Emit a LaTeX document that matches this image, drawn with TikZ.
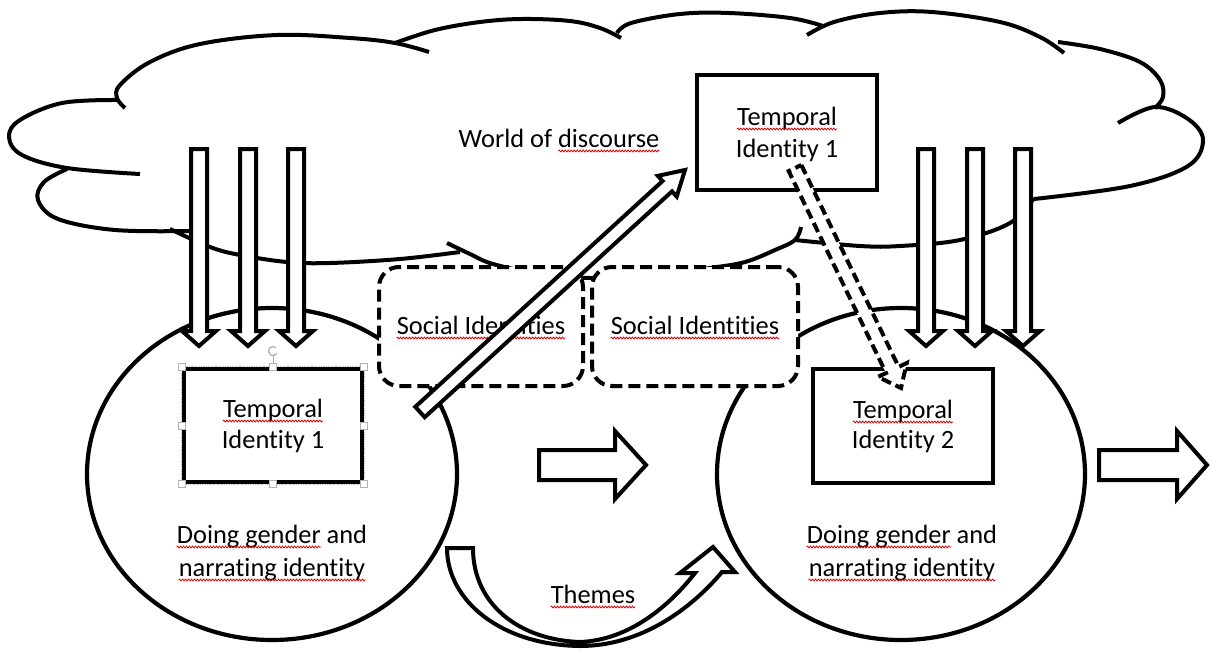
\documentclass[tikz,border=0pt]{standalone}
\usepackage{fontspec}
\setmainfont{Carlito}[RawFeature={-liga;-clig}]
\usetikzlibrary{calc,decorations.pathmorphing}
\tikzset{
 cloudln/.style={line width=4pt},
 ringln/.style={line width=4.2pt},
 tbox/.style={draw, line width=4.5pt, fill=white, inner sep=0pt},
 sbox/.style={draw, line width=4pt, dash pattern=on 12pt off 6pt, rounded corners=20pt, fill=white, inner sep=0pt},
 barr/.style={draw, line width=4pt, fill=white, line join=miter},
 dbarr/.style={barr, dash pattern=on 10pt off 5pt},
 txt/.style={font=\fontsize{26.4}{32}\selectfont, inner sep=0pt, anchor=base},
 squig/.style={draw=red!85!black, line width=0.8pt, decorate, decoration={snake, segment length=3pt, amplitude=0.9pt}},
 handle/.style={draw=gray!60, fill=white, line width=0.8pt, minimum size=7pt, inner sep=0pt},
}
% #1 style, #2 tail coord, #3 tip coord, #4 shaft half width, #5 head half width, #6 head length
\newcommand\blockarrow[6][]{%
 \coordinate (ba-h) at ($(#3)!#6!(#2)$);
 \draw[#1] ($(#2)!#4!90:(#3)$) -- ($(ba-h)!#4!-90:(#2)$) -- ($(ba-h)!#5!-90:(#2)$) -- (#3)
   -- ($(ba-h)!#5!90:(#2)$) -- ($(ba-h)!#4!90:(#2)$) -- ($(#2)!#4!-90:(#3)$) -- cycle;}
\newcommand\squigunder[3][0]{%
 \draw[squig] ($(#2.base west)!#1!(#2.base east)+(0,4)$) -- ($(#2.base west)!#3!(#2.base east)+(0,4)$);}
\begin{document}
\begin{tikzpicture}[x=1pt,y=-1pt]
\useasboundingbox (0,0) rectangle (1212,648);
% ---------------- cloud ----------------
\draw[cloudln] plot[smooth, tension=0.6] coordinates {(117,100) (62,103) (20,120) (9,137) (22,155) (67,168) (140,174)};
\draw[cloudln] plot[smooth, tension=0.6] coordinates {(67,169) (44,182) (38,200) (58,219) (115,230) (190,231)};
\draw[cloudln] plot[smooth, tension=0.6] coordinates {(170,229) (210,247) (240,255) (287,262) (330,263) (400,259) (460,252)};
\draw[cloudln] plot[smooth, tension=0.6] coordinates {(447,243) (470,254) (493,264) (540,274) (590,278) (650,276) (710,268) (745,262) (775,250) (795,240) (801,227)};
\draw[cloudln] plot[smooth, tension=0.6] coordinates {(1034,198) (1010,223) (960,240) (900,246) (860,246) (795,240)};
\draw[cloudln] plot[smooth, tension=0.6] coordinates {(1118,123) (1155,107) (1188,119) (1203,140) (1188,166) (1130,186) (1034,199)};
\draw[cloudln] plot[smooth, tension=0.6] coordinates {(1058,42) (1100,49) (1140,62) (1160,80) (1163,97) (1155,108)};
\draw[cloudln] plot[smooth, tension=0.6] coordinates {(807,35) (834,22) (880,13) (932,12) (1000,22) (1040,37) (1064,53)};
\draw[cloudln] plot[smooth, tension=0.6] coordinates {(617,33) (631,23) (680,14) (729,13) (790,18) (823,26)};
\draw[cloudln] plot[smooth, tension=0.6] coordinates {(395,43) (435,30) (480,22) (522,19) (570,21) (600,28) (621,38)};
\draw[cloudln] plot[smooth, tension=0.6] coordinates {(125,108) (117,98) (120,85) (150,62) (200,44) (277,35) (350,38) (395,43) (429,52)};
\node[txt] (world) at (559,147) {World of discourse};
\squigunder[0.4967]{world}{1}
% ---------------- rings ----------------
\draw[ringln] (272,474) ellipse [x radius=185pt, y radius=166pt];
\draw[ringln] (901,474) ellipse [x radius=184pt, y radius=166pt];
% ---------------- social identities ----------------
\node[sbox, minimum width=204pt, minimum height=119pt] (s1) at (481,326.5) {};
\node[sbox, minimum width=206pt, minimum height=119pt] (s2) at (695,326.5) {};
\node[txt] (s1t) at (481,334) {Social Identities};
\node[txt] (s2t) at (695,334) {Social Identities};
\squigunder{s1t}{1}
\squigunder{s2t}{1}
% ---------------- temporal boxes ----------------
\node[tbox, minimum width=180pt, minimum height=115pt] (top) at (787,132.5) {};
\node[txt] (topa) at (787,125) {Temporal};
\node[txt] (topb) at (787,157) {Identity 1};
\squigunder{topa}{1}
\node[tbox, minimum width=178pt, minimum height=113pt] (t1) at (273,425.5) {};
\draw[gray!55, line width=1pt, dash pattern=on 1.2pt off 1.2pt] (t1.south west) rectangle (t1.north east);
\node[txt] (t1a) at (273,417) {Temporal};
\node[txt] (t1b) at (273,448) {Identity 1};
\squigunder{t1a}{1}
\node[tbox, minimum width=180pt, minimum height=114pt] (t2) at (903,426) {};
\node[txt] (t2a) at (903,418) {Temporal};
\node[txt] (t2b) at (903,448) {Identity 2};
\squigunder{t2a}{1}
% ---------------- ring captions ----------------
\node[txt] (d1a) at (272,543) {Doing gender and};
\node[txt] (d1b) at (272,576) {narrating identity};
\squigunder{d1a}{0.757}
\squigunder{d1b}{1}
\node[txt] (d2a) at (902,543) {Doing gender and};
\node[txt] (d2b) at (902,576) {narrating identity};
\squigunder{d2a}{0.757}
\squigunder{d2b}{1}
% ---------------- down arrows ----------------
\foreach \i/\cx in {1/199,2/248,3/296,4/926,5/975,6/1023}{
  \coordinate (dn\i s) at (\cx,149);
  \coordinate (dn\i e) at (\cx,346);
  \blockarrow[barr]{dn\i s}{dn\i e}{8pt}{17pt}{15pt}
}
% ---------------- diagonal arrow ----------------
\coordinate (diagS) at (420,412);
\coordinate (diagE) at (685,170);
\blockarrow[barr]{diagS}{diagE}{7pt}{14pt}{24pt}
% ---------------- dashed arrow ----------------
\coordinate (dashS) at (795,168);
\coordinate (dashE) at (901,388);
\blockarrow[dbarr]{dashS}{dashE}{7pt}{16pt}{20pt}
% ---------------- right arrows ----------------
\coordinate (m1) at (539,465);
\coordinate (m2) at (646,465);
\blockarrow[barr]{m1}{m2}{15pt}{34pt}{31pt}
\coordinate (r1) at (1099,465);
\coordinate (r2) at (1207,465);
\blockarrow[barr]{r1}{r2}{15pt}{34pt}{30pt}
% ---------------- themes arrow ----------------
\draw[barr] (447,548) .. controls (447,600) and (500,645) .. (580,646)
  .. controls (640,646) and (690,610) .. (722,572) -- (735,572) -- (713,547) -- (680,573) -- (695,573)
  .. controls (670,605) and (630,640) .. (580,642)
  .. controls (520,640) and (473,605) .. (473,548) -- cycle;
\node[txt] (themes) at (593,603) {Themes};
\squigunder{themes}{1}
% ---------------- selection handles ----------------
\draw[gray!60, line width=1pt] (273,356) -- (273,367);
\draw[gray!60, line width=1.3pt] (273,351) ++(50:4.5pt) arc[start angle=50, end angle=330, radius=4.5pt];
\foreach \hx/\hy [count=\k] in {182/367,273/367,364/367,182/426,364/426,182/484,273/484,364/484}{
  \node[handle] (hd\k) at (\hx,\hy) {};
}
\end{tikzpicture}
\end{document}
